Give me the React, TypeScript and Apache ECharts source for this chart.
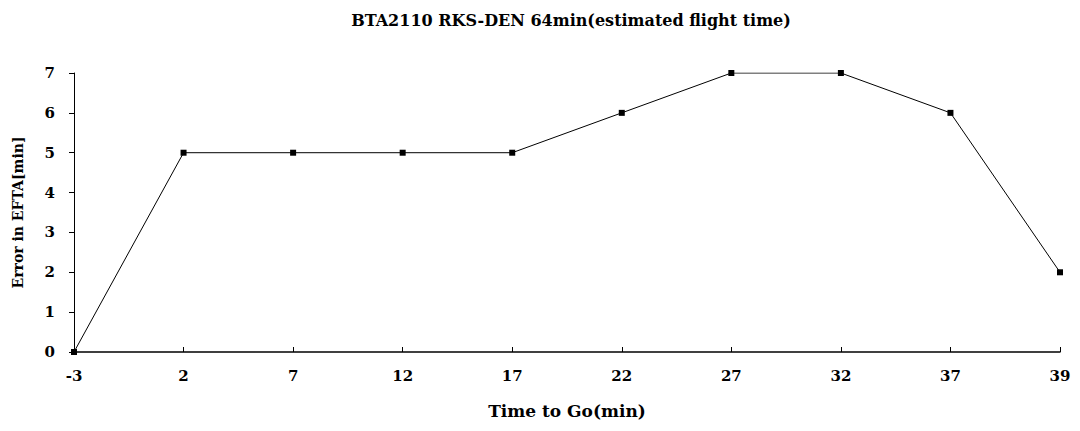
import React, { useEffect, useRef } from "react";
import * as echarts from "echarts";

const categories = ["-3", "2", "7", "12", "17", "22", "27", "32", "37", "39"];
const errorValues = [0, 5, 5, 5, 5, 6, 7, 7, 6, 2];
const titleText = "BTA2110 RKS-DEN 64min(estimated flight time)";
const xName = "Time to Go(min)";
const yName = "Error in EFTA[min]";

const FONT = "'DejaVu Serif', 'Liberation Serif', serif";

export default function App() {
  const ref = useRef<HTMLDivElement>(null);
  useEffect(() => {
    if (!ref.current) return;
    const chart = echarts.init(ref.current, undefined, { renderer: "svg" });
    chart.setOption({
      animation: false,
      backgroundColor: "#ffffff",
      title: {
        text: titleText,
        left: 566,
        textAlign: "center",
        top: 7,
        textStyle: { fontFamily: FONT, fontSize: 16, fontWeight: "bold", color: "#000" },
      },
      grid: { left: 74, right: 20, top: 73, bottom: 79 },
      xAxis: {
        type: "category",
        data: categories,
        boundaryGap: false,
        name: xName,
        nameLocation: "middle",
        nameGap: 50,
        nameTextStyle: { fontFamily: FONT, fontSize: 17, fontWeight: "bold", color: "#000" },
        axisLine: { lineStyle: { color: "#000", width: 1.5 } },
        axisTick: { show: true, length: 5, inside: true, lineStyle: { color: "#000" } },
        axisLabel: { fontFamily: FONT, fontSize: 15, fontWeight: "bold", color: "#000", margin: 16, interval: 0 },
        splitLine: { show: false },
      },
      yAxis: {
        type: "value",
        min: 0,
        max: 7,
        interval: 1,
        name: yName,
        nameLocation: "middle",
        nameGap: 49,
        nameTextStyle: { fontFamily: FONT, fontSize: 14, fontWeight: "bold", color: "#000" },
        axisLine: { show: true, lineStyle: { color: "#000", width: 1 } },
        axisTick: { show: true, length: 5, lineStyle: { color: "#000" } },
        axisLabel: { fontFamily: FONT, fontSize: 15, fontWeight: "bold", color: "#000", margin: 19 },
        splitLine: { show: false },
      },
      series: [
        {
          type: "line",
          data: errorValues,
          symbol: "rect",
          symbolSize: 6,
          itemStyle: { color: "#000" },
          lineStyle: { color: "#000", width: 1 },
        },
      ],
    });
    return () => chart.dispose();
  }, []);
  return (
    <div
      ref={ref}
      style={{ position: "absolute", left: 0, top: 0, width: 1080, height: 431, background: "#fff" }}
    />
  );
}
